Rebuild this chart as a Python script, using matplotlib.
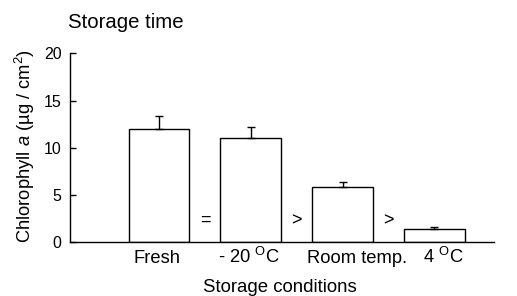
import matplotlib
matplotlib.use("Agg")
import matplotlib.pyplot as plt

plt.rcParams['font.family'] = ['Liberation Sans', 'DejaVu Sans']
plt.rcParams['mathtext.fontset'] = 'custom'
plt.rcParams['mathtext.rm'] = 'Liberation Sans'
plt.rcParams['mathtext.it'] = 'Liberation Sans:italic'

categories = ["Fresh", "- 20 $^{\\mathrm{O}}$C", "Room temp.", "4 $^{\\mathrm{O}}$C"]
values = [12.0, 11.0, 5.8, 1.38]
errors = [1.37, 1.2, 0.6, 0.21]
comparisons = ["=", ">", ">"]
yticks = [0, 5, 10, 15, 20]

fig = plt.figure(figsize=(5.17, 2.96), dpi=100)
ax = fig.add_axes([0.1354, 0.1814, 0.82, 0.6386])

x = list(range(len(categories)))
ax.bar(x, values, width=0.66, color='white', edgecolor='black', linewidth=1.0, zorder=2)
ax.errorbar(x, values, yerr=[[0]*len(errors), errors], fmt='none', ecolor='black',
            elinewidth=1.0, capsize=2.6, capthick=1.0, zorder=3)

ax.set_xlim(-0.97, 3.65)
ax.set_ylim(0, 20)
ax.set_yticks(yticks)
ax.tick_params(axis='y', direction='in', length=4, labelsize=11.5, width=1, pad=6)
ax.set_xticks([])
for s in ['top', 'right']:
    ax.spines[s].set_visible(False)
ax.spines['left'].set_linewidth(1.0)
ax.spines['bottom'].set_linewidth(1.0)

label_offsets = [-0.02, -0.02, 0.16, 0.10]
for xi, lab, off in zip(x, categories, label_offsets):
    ax.text(xi + off, -2.15, lab, ha='center', va='baseline', fontsize=13.2)

for i, sym in enumerate(comparisons):
    ax.text(i + 0.5, 2.3, sym, ha='center', va='center', fontsize=13)

fig.text(0.5416, 0.0135, "Storage conditions", fontsize=13.4, ha='center', va='baseline')
fig.text(0.048, 0.507, "Chlorophyll $\\it{a}$ (µg / cm$^2$)", fontsize=13.2,
         rotation=90, ha='center', va='center')
fig.text(0.1315, 0.904, "Storage time", fontsize=14.7, ha='left', va='baseline')

fig.savefig("out.png", dpi=100)
